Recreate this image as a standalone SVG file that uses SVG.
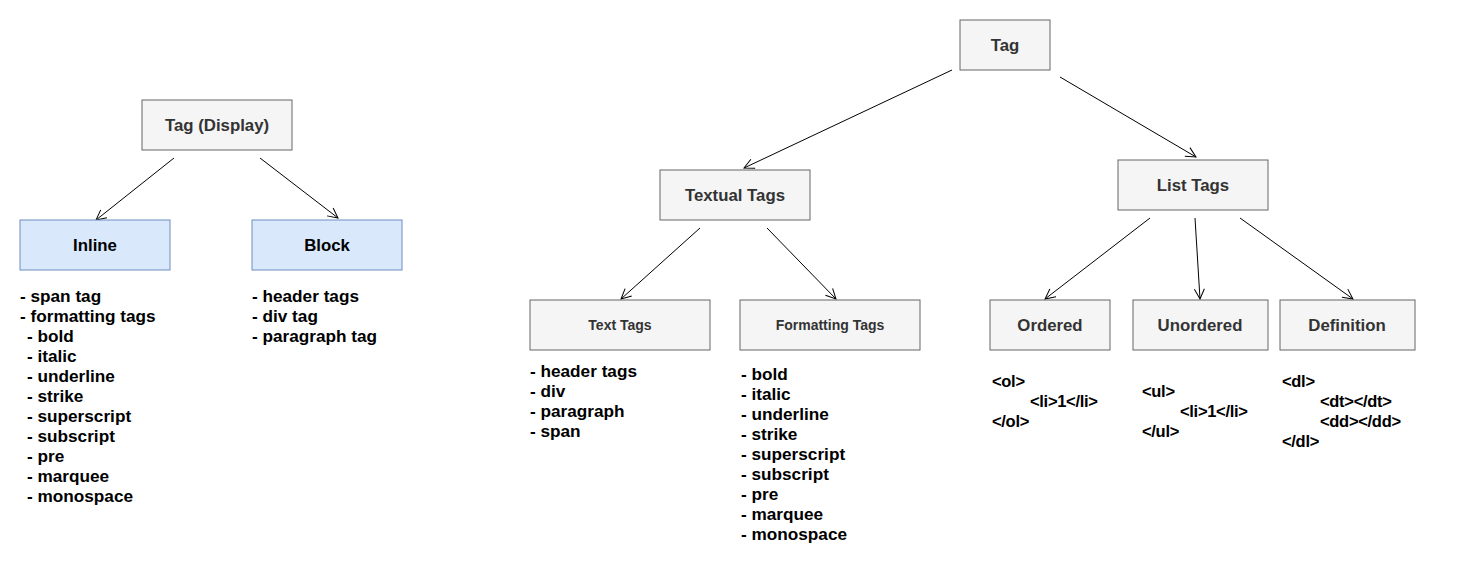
<svg xmlns="http://www.w3.org/2000/svg" width="1471" height="566" viewBox="0 0 1471 566">
<style>
.g{fill:#f5f5f5;stroke:#666;stroke-width:1}
.b{fill:#dae8fc;stroke:#6c8ebf;stroke-width:1}
.t{font-family:"Liberation Sans",Arial,sans-serif;font-weight:bold;font-size:16.8px;fill:#333;text-anchor:middle;dominant-baseline:central}
.tb{fill:#000}
.s{font-size:14px}
.l{font-family:"Liberation Sans",Arial,sans-serif;font-weight:bold;font-size:17.2px;fill:#000}
.c{font-family:"Liberation Sans",Arial,sans-serif;font-weight:bold;font-size:16.5px;fill:#000;letter-spacing:-0.3px}
.e{fill:none;stroke:#000;stroke-width:1}
</style>
<defs>
<marker id="a" viewBox="0 0 12 12" refX="11" refY="6" markerWidth="12" markerHeight="12" markerUnits="userSpaceOnUse" orient="auto">
<path d="M1,1 L11,6 L1,11" fill="none" stroke="#000" stroke-width="1"/>
</marker>
</defs>
<g id="connectors">
<line class="e" x1="174" y1="158" x2="96" y2="220" marker-end="url(#a)"/>
<line class="e" x1="260" y1="158" x2="338" y2="218" marker-end="url(#a)"/>
<line class="e" x1="952" y1="70" x2="744" y2="168" marker-end="url(#a)"/>
<line class="e" x1="1060" y1="77" x2="1196" y2="157" marker-end="url(#a)"/>
<line class="e" x1="700" y1="228" x2="621" y2="299" marker-end="url(#a)"/>
<line class="e" x1="767" y1="228" x2="836" y2="299" marker-end="url(#a)"/>
<line class="e" x1="1150" y1="218" x2="1045" y2="299" marker-end="url(#a)"/>
<line class="e" x1="1195" y1="218" x2="1200" y2="299" marker-end="url(#a)"/>
<line class="e" x1="1240" y1="218" x2="1353" y2="299" marker-end="url(#a)"/>
</g>
<g id="tag-display"><rect class="g" x="142" y="100" width="150" height="50"/><text class="t" x="217" y="125">Tag (Display)</text></g>
<g id="inline"><rect class="b" x="20" y="220" width="150" height="50"/><text class="t tb" x="95" y="245">Inline</text></g>
<g id="block"><rect class="b" x="252" y="220" width="150" height="50"/><text class="t tb" x="327" y="245">Block</text></g>
<g id="inline-list">
<text class="l" x="20" y="302">- span tag</text>
<text class="l" x="20" y="322">- formatting tags</text>
<text class="l" x="27" y="342">- bold</text>
<text class="l" x="27" y="362">- italic</text>
<text class="l" x="27" y="382">- underline</text>
<text class="l" x="27" y="402">- strike</text>
<text class="l" x="27" y="422">- superscript</text>
<text class="l" x="27" y="442">- subscript</text>
<text class="l" x="27" y="462">- pre</text>
<text class="l" x="27" y="482">- marquee</text>
<text class="l" x="27" y="502">- monospace</text>
</g>
<g id="block-list">
<text class="l" x="252" y="302">- header tags</text>
<text class="l" x="252" y="322">- div tag</text>
<text class="l" x="252" y="342">- paragraph tag</text>
</g>
<g id="tag"><rect class="g" x="960" y="20" width="90" height="50"/><text class="t" x="1005" y="45">Tag</text></g>
<g id="textual-tags"><rect class="g" x="660" y="170" width="150" height="50"/><text class="t" x="735" y="195">Textual Tags</text></g>
<g id="list-tags"><rect class="g" x="1118" y="160" width="150" height="50"/><text class="t" x="1193" y="185">List Tags</text></g>
<g id="text-tags"><rect class="g" x="530" y="300" width="180" height="50"/><text class="t s" x="620" y="325">Text Tags</text></g>
<g id="formatting-tags"><rect class="g" x="740" y="300" width="180" height="50"/><text class="t s" x="830" y="325">Formatting Tags</text></g>
<g id="ordered"><rect class="g" x="990" y="300" width="120" height="50"/><text class="t" x="1050" y="325">Ordered</text></g>
<g id="unordered"><rect class="g" x="1133" y="300" width="135" height="50"/><text class="t" x="1200" y="325">Unordered</text></g>
<g id="definition"><rect class="g" x="1280" y="300" width="135" height="50"/><text class="t" x="1347" y="325">Definition</text></g>
<g id="text-tags-list">
<text class="l" x="530" y="377">- header tags</text>
<text class="l" x="530" y="397">- div</text>
<text class="l" x="530" y="417">- paragraph</text>
<text class="l" x="530" y="437">- span</text>
</g>
<g id="formatting-tags-list">
<text class="l" x="741" y="380">- bold</text>
<text class="l" x="741" y="400">- italic</text>
<text class="l" x="741" y="420">- underline</text>
<text class="l" x="741" y="440">- strike</text>
<text class="l" x="741" y="460">- superscript</text>
<text class="l" x="741" y="480">- subscript</text>
<text class="l" x="741" y="500">- pre</text>
<text class="l" x="741" y="520">- marquee</text>
<text class="l" x="741" y="540">- monospace</text>
</g>
<g id="ordered-code">
<text class="c" x="992" y="387">&lt;ol&gt;</text>
<text class="c" x="1030" y="407">&lt;li&gt;1&lt;/li&gt;</text>
<text class="c" x="992" y="427">&lt;/ol&gt;</text>
</g>
<g id="unordered-code">
<text class="c" x="1142" y="397">&lt;ul&gt;</text>
<text class="c" x="1180" y="417">&lt;li&gt;1&lt;/li&gt;</text>
<text class="c" x="1142" y="437">&lt;/ul&gt;</text>
</g>
<g id="definition-code">
<text class="c" x="1282" y="387">&lt;dl&gt;</text>
<text class="c" x="1320" y="407">&lt;dt&gt;&lt;/dt&gt;</text>
<text class="c" x="1320" y="427">&lt;dd&gt;&lt;/dd&gt;</text>
<text class="c" x="1282" y="447">&lt;/dl&gt;</text>
</g>
</svg>
